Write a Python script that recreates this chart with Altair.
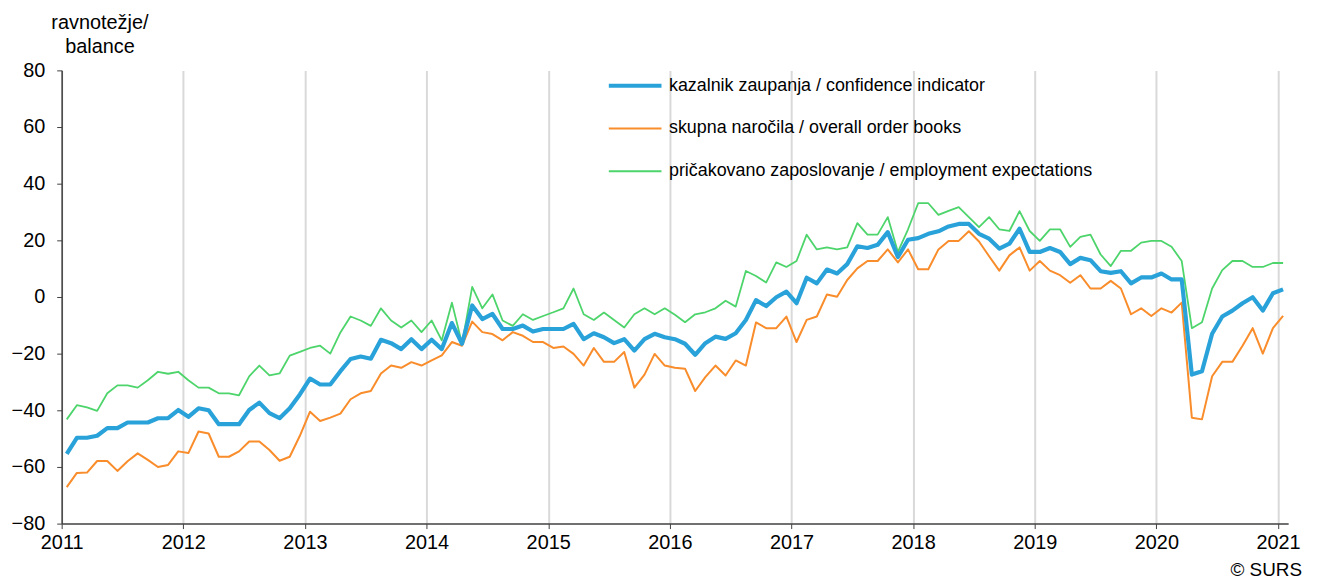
import altair as alt
import pandas as pd

series_names = [
    "kazalnik zaupanja / confidence indicator",
    "skupna naročila / overall order books",
    "pričakovano zaposlovanje / employment expectations",
]
series_colors = ["#29A2DA", "#F98C2B", "#4DD46B"]
series_widths = [4.2, 2.0, 1.8]

start_year = 2011
year_labels = list(range(2011, 2022))

# monthly values, Jan 2011 .. Jan 2021
confidence = [
    -55.4, -49.7, -49.7, -49.0, -46.3, -46.3, -44.3, -44.3, -44.3, -42.8, -42.8, -39.9,
    -42.3, -39.3, -40.0, -44.9, -44.9, -44.9, -39.9, -37.3, -41.0, -42.8, -39.3, -34.4,
    -28.8, -30.9, -30.9, -26.2, -21.9, -21.0, -21.8, -15.1, -16.3, -18.4, -14.9, -18.4,
    -15.1, -18.4, -9.2, -16.5, -3.0, -7.8, -6.0, -11.3, -11.3, -10.1, -12.2, -11.3,
    -11.3, -11.3, -9.5, -14.9, -12.8, -14.2, -16.3, -14.9, -18.9, -14.9, -13.0, -14.2,
    -14.9, -16.5, -20.4, -16.3, -14.0, -14.8, -12.8, -8.1, -1.1, -3.2, -0.1, 1.9,
    -2.2, 6.8, 4.8, 9.7, 8.3, 11.6, 17.9, 17.3, 18.4, 22.9, 14.1, 20.2,
    20.8, 22.3, 23.2, 24.9, 25.8, 25.8, 22.3, 20.6, 17.1, 18.8, 24.1, 15.9,
    15.9, 17.3, 15.9, 11.6, 13.8, 13.0, 9.1, 8.5, 9.1, 4.8, 6.9, 6.9,
    8.3, 6.2, 6.2, -27.4, -26.2, -13.0, -6.9, -4.8, -2.2, -0.1, -4.8, 1.3,
    2.7,
]

order_books = [
    -67.1, -62.1, -62.0, -57.9, -57.9, -61.4, -58.0, -55.2, -57.5, -60.0, -59.3, -54.5,
    -55.1, -47.5, -48.2, -56.4, -56.4, -54.5, -51.0, -51.0, -54.0, -57.8, -56.4, -49.0,
    -40.5, -43.8, -42.6, -41.2, -36.1, -34.0, -33.2, -27.0, -24.2, -25.0, -23.0, -24.2,
    -22.4, -20.6, -15.9, -17.2, -8.7, -12.4, -13.1, -15.3, -12.4, -13.7, -15.9, -15.9,
    -18.0, -17.5, -20.1, -24.2, -18.0, -22.9, -22.9, -19.4, -32.0, -27.4, -20.1, -24.2,
    -25.0, -25.3, -33.2, -28.3, -24.2, -27.7, -22.4, -24.2, -9.0, -11.0, -11.0, -6.9,
    -15.9, -8.1, -6.9, 0.9, 0.1, 6.0, 10.1, 12.7, 12.7, 16.8, 12.2, 16.8,
    9.8, 9.8, 16.8, 19.8, 19.8, 23.2, 19.6, 14.4, 9.3, 14.7, 17.5, 9.3,
    12.7, 9.3, 7.7, 5.0, 7.7, 3.0, 3.0, 5.7, 3.0, -6.1, -4.0, -6.7,
    -4.0, -5.5, -2.0, -42.6, -43.2, -28.0, -22.9, -22.9, -17.2, -11.0, -20.0, -11.0,
    -6.7,
]

employment = [
    -43.2, -38.2, -39.0, -40.2, -34.0, -31.2, -31.2, -32.0, -29.4, -26.4, -27.1, -26.4,
    -29.4, -32.0, -32.0, -34.0, -34.0, -34.7, -28.0, -24.2, -27.7, -27.0, -20.7, -19.4,
    -18.0, -17.2, -20.0, -12.5, -6.9, -8.3, -10.2, -4.0, -8.3, -10.8, -8.3, -12.4,
    -8.3, -15.3, -2.0, -16.5, 3.6, -4.0, 0.9, -8.3, -10.2, -6.1, -8.1, -6.7,
    -5.4, -4.0, 3.0, -6.1, -8.1, -5.5, -8.1, -10.8, -6.1, -4.0, -6.1, -4.0,
    -6.3, -8.9, -6.1, -5.4, -4.0, -1.3, -3.4, 9.2, 7.4, 5.1, 12.2, 10.6,
    12.7, 22.0, 16.8, 17.5, 16.8, 17.5, 26.1, 22.0, 22.0, 28.2, 15.9, 23.9,
    33.1, 33.1, 29.0, 30.4, 31.7, 28.2, 24.7, 28.2, 23.9, 23.3, 30.3, 23.3,
    19.8, 23.9, 23.9, 17.7, 21.2, 22.0, 15.0, 10.9, 16.3, 16.3, 19.2, 19.8,
    19.8, 17.7, 12.7, -11.0, -8.9, 3.0, 9.5, 12.7, 12.7, 10.6, 10.6, 12.0,
    12.0,
]

n_months = len(confidence)
rows = []
for name, vals in [(series_names[2], employment),
                   (series_names[1], order_books),
                   (series_names[0], confidence)]:
    for i, v in enumerate(vals):
        rows.append({"t": i + 0.5, "value": v, "series": name})
df = pd.DataFrame(rows)

FONT = "Liberation Sans"

legend_def = alt.Legend(
    title=None, orient="none", legendX=548, legendY=3, direction="vertical",
    symbolType="stroke", symbolSize=2809, clipHeight=25, rowPadding=18,
    labelOffset=5, labelFontSize=18, labelFont=FONT, labelColor="black",
    labelLimit=0, padding=0,
)

lines = alt.Chart(df).mark_line(strokeJoin="round").encode(
    x=alt.X(
        "t:Q",
        scale=alt.Scale(domain=[0, n_months], nice=False, zero=False),
        axis=alt.Axis(
            values=[12 * k for k in range(len(year_labels))],
            labelExpr=f"'' + ({start_year} + datum.value / 12)",
            title=None, grid=True, gridColor="#D9D9D9", gridWidth=2,
            tickSize=5, tickColor="#404040", domainColor="#404040", domainWidth=1.5,
            labelFontSize=20, labelFont=FONT, labelColor="black", labelPadding=4,
            labelFlush=False,
        ),
    ),
    y=alt.Y(
        "value:Q",
        scale=alt.Scale(domain=[-80, 80], nice=False, zero=False),
        axis=alt.Axis(
            values=list(range(-80, 81, 20)),
            title=["ravnotežje/", "balance"], titleAngle=0, titleAlign="center",
            titleBaseline="top", titleX=38, titleY=-58, titleFontSize=20,
            titleFontWeight="normal", titleFont=FONT, titleColor="black",
            titleLineHeight=24,
            grid=False, tickSize=5, tickColor="#404040", domainColor="#404040",
            domainWidth=1.5, labelFontSize=20, labelFont=FONT, labelColor="black",
            labelPadding=12, labelFlush=False,
        ),
    ),
    color=alt.Color(
        "series:N",
        scale=alt.Scale(domain=series_names, range=series_colors),
        legend=legend_def,
    ),
    strokeWidth=alt.StrokeWidth(
        "series:N",
        scale=alt.Scale(type="ordinal", domain=series_names, range=series_widths),
        legend=legend_def,
    ),
)

credit = alt.Chart(pd.DataFrame({"label": ["© SURS"]})).mark_text(
    align="right", baseline="alphabetic", fontSize=19, font=FONT, color="black"
).encode(text="label:N", x=alt.value(1248), y=alt.value(509))

chart = alt.layer(lines, credit).properties(
    width=1234, height=456,
    autosize=alt.AutoSizeParams(type="none"),
    padding={"left": 54, "top": 61, "right": 24, "bottom": 57},
    background="white",
).configure_view(stroke=None)

chart.save("out.html", embed_options={"renderer": "svg", "actions": False})
